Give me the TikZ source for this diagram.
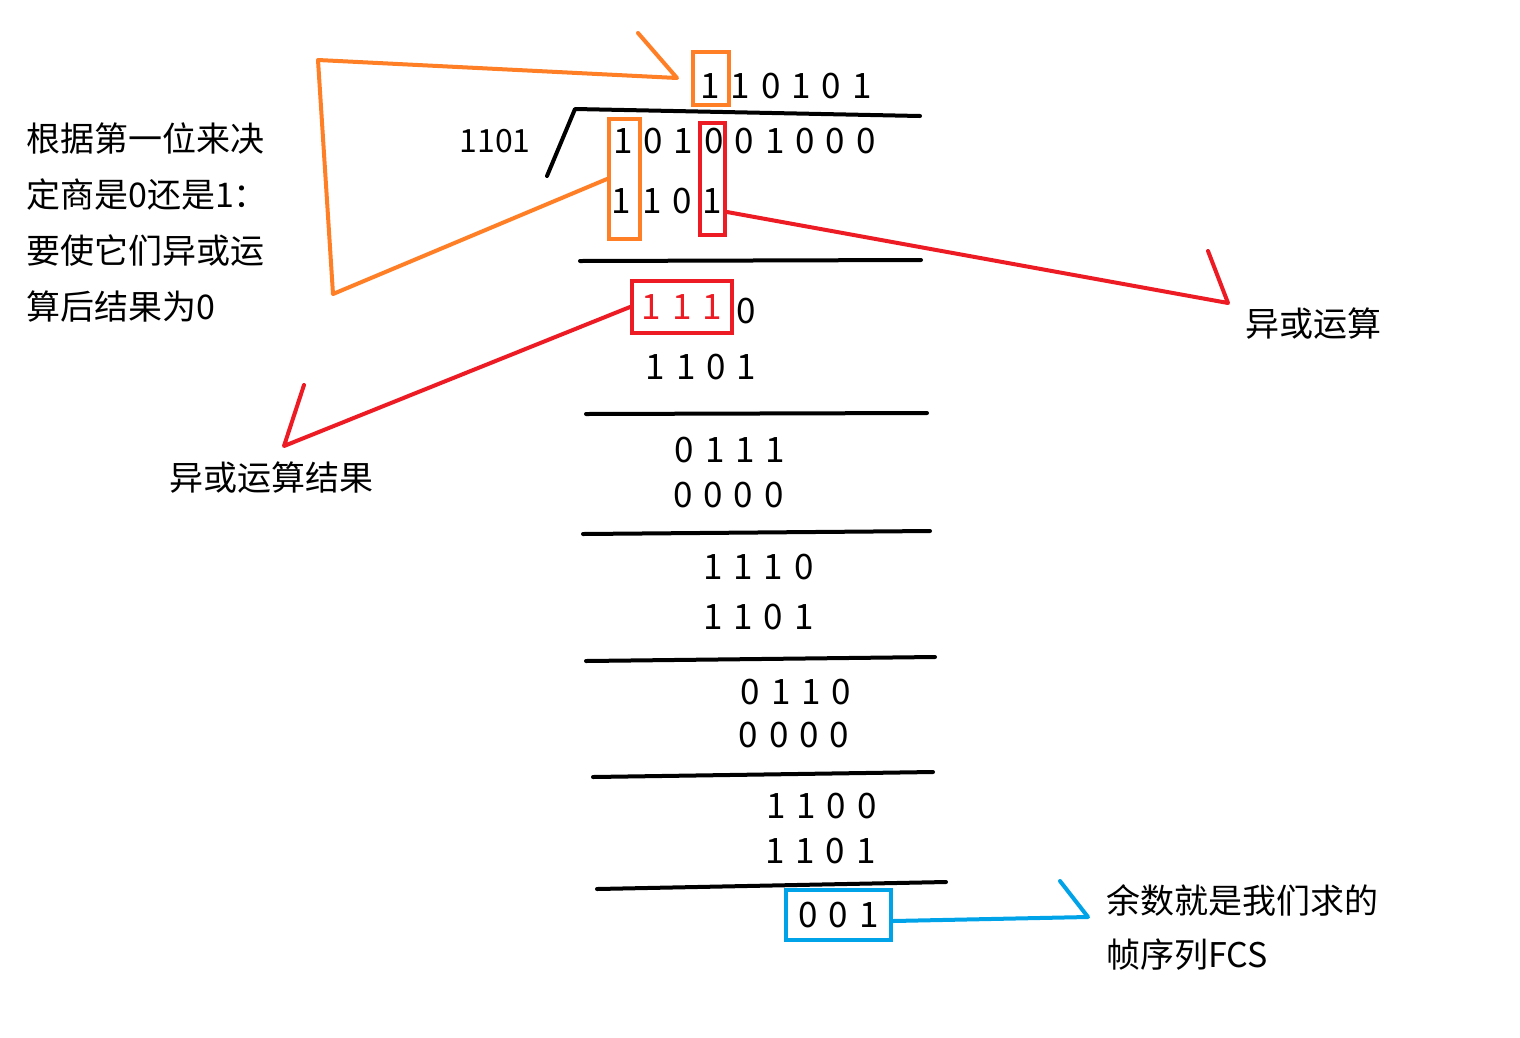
\documentclass[tikz,border=0pt]{standalone}
\usepackage{fontspec}
\newfontfamily\cjk[WordSpace=1.4]{Noto Sans CJK SC}
\usetikzlibrary{positioning}
\definecolor{xorange}{RGB}{255,127,39}
\definecolor{xred}{RGB}{237,28,36}
\definecolor{xblue}{RGB}{0,162,232}

\begin{document}
\begin{tikzpicture}[
    x=1pt, y=-1pt,
    every node/.style={inner sep=0pt},
    bits/.style={font=\cjk\fontsize{35}{40}\selectfont},
    note/.style={font=\cjk\fontsize{34}{56}\selectfont, align=left},
    obox/.style={rectangle, draw=xorange, line width=4pt},
    rbox/.style={rectangle, draw=xred, line width=4pt},
    bbox/.style={rectangle, draw=xblue, line width=4pt},
    divline/.style={line width=4pt, line cap=round, line join=round},
    oline/.style={xorange, line width=4pt, line cap=round, line join=round},
    rline/.style={xred, line width=4pt, line cap=round, line join=round},
    bline/.style={xblue, line width=4pt, line cap=round, line join=round}
  ]
  \useasboundingbox (0,0) rectangle (1520,1037);

  \node[bits] (quot) at (786,86) {1 1 0 1 0 1};
  \node[obox, minimum width=36, minimum height=53] (qbox) at (711,78.5) {};
  \node[bits, font=\cjk\fontsize{32}{40}\selectfont] (divisor) at (495,141.5) {1101};
  \node[bits] (dividend) at (744.5,141.5) {1 0 1 0 0 1 0 0 0};
  \node[bits] (sub1) at (667,201.5) {1 1 0 1};
  \node[obox, minimum width=31, minimum height=120] (ocol) at (624.5,179) {};
  \node[rbox, minimum width=25, minimum height=112] (rcol) at (712.5,179) {};

  \node[rbox, bits, text=xred, minimum width=100, minimum height=52] (rem1) at (682,307) {1 1 1};
  \node[bits, right=2pt of rem1, yshift=-4pt] (rem1z) {0};
  \node[bits] (sub2) at (701,367) {1 1 0 1};
  \node[bits] (rem2) at (730,450) {0 1 1 1};
  \node[bits] (sub3) at (728.5,495.5) {0 0 0 0};
  \node[bits] (rem3) at (758.5,567.5) {1 1 1 0};
  \node[bits] (sub4) at (758.5,617.5) {1 1 0 1};
  \node[bits] (rem4) at (796,692.5) {0 1 1 0};
  \node[bits] (sub5) at (794,735) {0 0 0 0};
  \node[bits] (rem5) at (821.5,806.5) {1 1 0 0};
  \node[bits] (sub6) at (820.5,851.5) {1 1 0 1};
  \node[bbox, bits, minimum width=105, minimum height=50] (fcs) at (838.5,915) {0 0 1};

  \draw[divline] (547,176) -- (575,109) -- (920,116);
  \draw[divline] (580,261) -- (921,260);
  \draw[divline] (586,414) -- (927,413);
  \draw[divline] (583,534) -- (930,531);
  \draw[divline] (586,661) -- (935,657);
  \draw[divline] (593,777) -- (933,772);
  \draw[divline] (597,889) -- (946,882);

  \node[note, anchor=west] (rulenote) at (26,222) {根据第一位来决\\定商是0还是1：\\要使它们异或运\\算后结果为0};
  \node[note] (xornote) at (1313.5,323.5) {异或运算};
  \node[note] (resnote) at (271,478) {异或运算结果};
  \node[note, font=\cjk\fontsize{34}{54}\selectfont, anchor=west] (fcsnote) at (1106,927) {余数就是我们求的\\帧序列FCS};

  \coordinate (obend1) at (333,294);
  \coordinate (obend2) at (318,60);
  \coordinate (otip) at (677,78);
  \coordinate (obarb) at (638,33);
  \coordinate (rtip1) at (1228,303);
  \coordinate (rbarb1) at (1208,251);
  \coordinate (rtip2) at (284,446);
  \coordinate (rbarb2) at (304,385);
  \coordinate (btip) at (1088,917);
  \coordinate (bbarb) at (1060,881);

  \draw[oline] (ocol.west) -- (obend1) -- (obend2) -- (otip) -- (obarb);
  \draw[rline] ([yshift=-33pt]rcol.east) -- (rtip1) -- (rbarb1);
  \draw[rline] (rem1.west) -- (rtip2) -- (rbarb2);
  \draw[bline] ([yshift=-6pt]fcs.east) -- (btip) -- (bbarb);
\end{tikzpicture}
\end{document}
